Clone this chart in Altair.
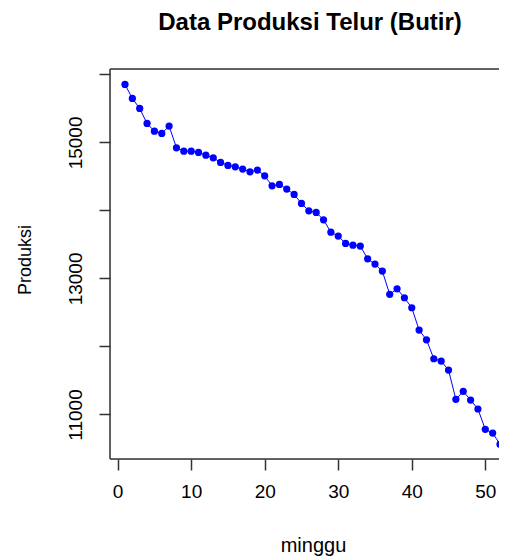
import altair as alt
import pandas as pd

minggu = list(range(1, 53))
produksi = [15853, 15647, 15500, 15279, 15166, 15132, 15240, 14921, 14872, 14872,
            14853, 14813, 14774, 14706, 14662, 14641, 14608, 14568, 14593, 14509,
            14362, 14383, 14314, 14236, 14103, 13995, 13971, 13862, 13681, 13623,
            13515, 13490, 13476, 13289, 13211, 13108, 12766, 12848, 12716, 12569,
            12241, 12098, 11819, 11785, 11653, 11222, 11340, 11212, 11080, 10781,
            10727, 10561]
x_ticks = [0, 10, 20, 30, 40, 50]
y_ticks = [11000, 12000, 13000, 14000, 15000, 16000]
y_labelled = [11000, 13000, 15000]

df = pd.DataFrame({"minggu": minggu, "produksi": produksi})
one = pd.DataFrame({"k": [0]})

FONT = "Liberation Sans"
AX = "#333333"
PW, PH = 405, 390  # full plot region (extends past the right window edge)

x_enc = alt.X("minggu:Q", title="minggu",
              scale=alt.Scale(domain=[-1.04, 54.04], nice=False, zero=False, range=[0, PW]),
              axis=alt.Axis(values=x_ticks, format="d", grid=False, domain=False,
                            tickSize=11, tickColor=AX, tickWidth=1.5,
                            labelFont=FONT, labelFontSize=19, labelColor="#000",
                            labelPadding=12, labelFlush=False, labelOverlap=False,
                            titleFont=FONT, titleFontSize=20, titleFontWeight="normal",
                            titleColor="#000", titleX=203, titleY=92,
                            titleBaseline="alphabetic"))
y_enc = alt.Y("produksi:Q", title="Produksi",
              scale=alt.Scale(domain=[10345, 16080], nice=False, zero=False),
              axis=alt.Axis(values=y_ticks, format="d", grid=False, domain=False,
                            tickSize=11, tickColor=AX, tickWidth=1.5,
                            labelExpr="indexof(" + str(y_labelled) + ", datum.value) >= 0 ? datum.label : ''",
                            labelAngle=270, labelAlign="center", labelBaseline="alphabetic",
                            labelFont=FONT, labelFontSize=19, labelColor="#000",
                            labelPadding=18, labelFlush=False, labelOverlap=False,
                            titleFont=FONT, titleFontSize=18, titleFontWeight="normal",
                            titleColor="#000", titleX=-80, titleY=190.5, titleAngle=270,
                            titleAlign="center", titleBaseline="alphabetic"))

line = alt.Chart(df).mark_line(color="#0000FF", strokeWidth=1).encode(x=x_enc, y=y_enc)
pts = alt.Chart(df).mark_circle(color="#0000FF", size=52, opacity=1).encode(x="minggu:Q", y="produksi:Q")

frame_style = dict(color=AX, strokeWidth=1.5)
top = alt.Chart(one).mark_rule(**frame_style).encode(x=alt.value(0), x2=alt.value(PW), y=alt.value(0))
bottom = alt.Chart(one).mark_rule(**frame_style).encode(x=alt.value(0), x2=alt.value(PW), y=alt.value(PH))
left = alt.Chart(one).mark_rule(**frame_style).encode(x=alt.value(0), y=alt.value(0), y2=alt.value(PH))

chart = alt.layer(line, pts, top, bottom, left).properties(
    width=389, height=PH,
    title=alt.TitleParams("Data Produksi Telur (Butir)", font=FONT, fontSize=24,
                          fontWeight="bold", color="#000", anchor="middle", offset=14,
                          dx=5.5, baseline="alphabetic"),
    autosize=alt.AutoSizeParams(type="none"),
    padding={"left": 102, "top": 61, "right": 0, "bottom": 97},
).configure_view(stroke=None).configure(background="white")

chart.save("out.html", embed_options={"renderer": "svg", "actions": False})
